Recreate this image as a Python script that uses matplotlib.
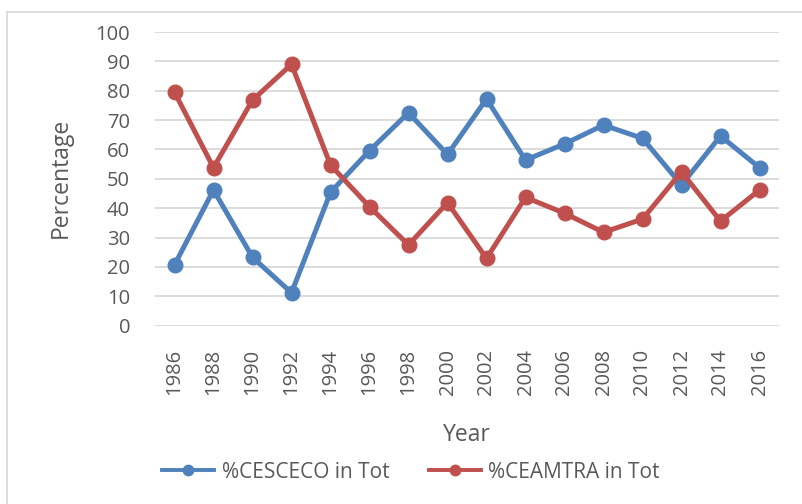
import matplotlib
matplotlib.use("Agg")
import matplotlib.pyplot as plt
from matplotlib.lines import Line2D
from matplotlib.patches import Rectangle

plt.rcParams['font.family'] = ['Open Sans', 'DejaVu Sans']

# ── Data ──────────────────────────────────────────────────────
years = ['1986', '1988', '1990', '1992', '1994', '1996', '1998', '2000',
         '2002', '2004', '2006', '2008', '2010', '2012', '2014', '2016']
cesceco = [20.7, 46.2, 23.3, 11.2, 45.4, 59.6, 72.5, 58.3,
           77.2, 56.4, 61.9, 68.3, 63.8, 47.9, 64.6, 53.8]
ceamtra = [79.5, 53.8, 76.8, 89.0, 54.7, 40.5, 27.5, 41.9,
           22.9, 43.7, 38.3, 31.8, 36.3, 52.4, 35.6, 46.2]
series_names = ['%CESCECO in Tot', '%CEAMTRA in Tot']

BLUE = '#4F81BD'
RED = '#C0504D'
TXT = '#595959'
GRID = '#D9D9D9'

# ── Plot ──────────────────────────────────────────────────────
fig = plt.figure(figsize=(8.02, 5.04), dpi=100)
ax = fig.add_axes([155 / 802, 1 - 325.7 / 504, 624 / 802, (325.7 - 32) / 504])

x = range(len(years))
ax.plot(x, cesceco, '-o', color=BLUE, lw=3.6, ms=10.5, zorder=3)
ax.plot(x, ceamtra, '-o', color=RED, lw=3.6, ms=10.5, zorder=4)

ax.set_xlim(-0.5, len(years) - 0.5)
ax.set_ylim(0, 100)
ax.set_yticks(range(0, 101, 10))
ax.set_xticks(list(x))
ax.set_xticklabels(years, rotation=90)
ax.tick_params(axis='both', length=0, labelsize=14.5, labelcolor=TXT)
ax.tick_params(axis='y', pad=18)
ax.tick_params(axis='x', pad=17)
ax.grid(axis='y', color=GRID, lw=1.3)
ax.set_axisbelow(True)
for s in ax.spines.values():
    s.set_visible(False)

ax.set_ylabel('Percentage', fontsize=16.5, color=TXT, va='center')
ax.yaxis.set_label_coords(61 / 802, 1 - 178 / 504, transform=fig.transFigure)
ax.set_xlabel('Year', fontsize=16.5, color=TXT, va='center')
ax.xaxis.set_label_coords(467 / 802, 1 - 435 / 504, transform=fig.transFigure)

handles = [Line2D([], [], color=BLUE, lw=2.8, marker='o', ms=7.5),
           Line2D([], [], color=RED, lw=2.8, marker='o', ms=7.5)]
fig.legend(handles, series_names, loc='center',
           bbox_to_anchor=(411 / 802, 1 - 472 / 504), ncol=2,
           frameon=False, fontsize=15, labelcolor=TXT, handlelength=2.5,
           columnspacing=1.9, handletextpad=0.35)

# outer chart border
fig.patches.append(Rectangle((7 / 802, -0.02), 1.0, 1 - 12 / 504 + 0.02,
                             transform=fig.transFigure, fill=False,
                             edgecolor=GRID, lw=1.3))

fig.savefig('out.png', dpi=100)
